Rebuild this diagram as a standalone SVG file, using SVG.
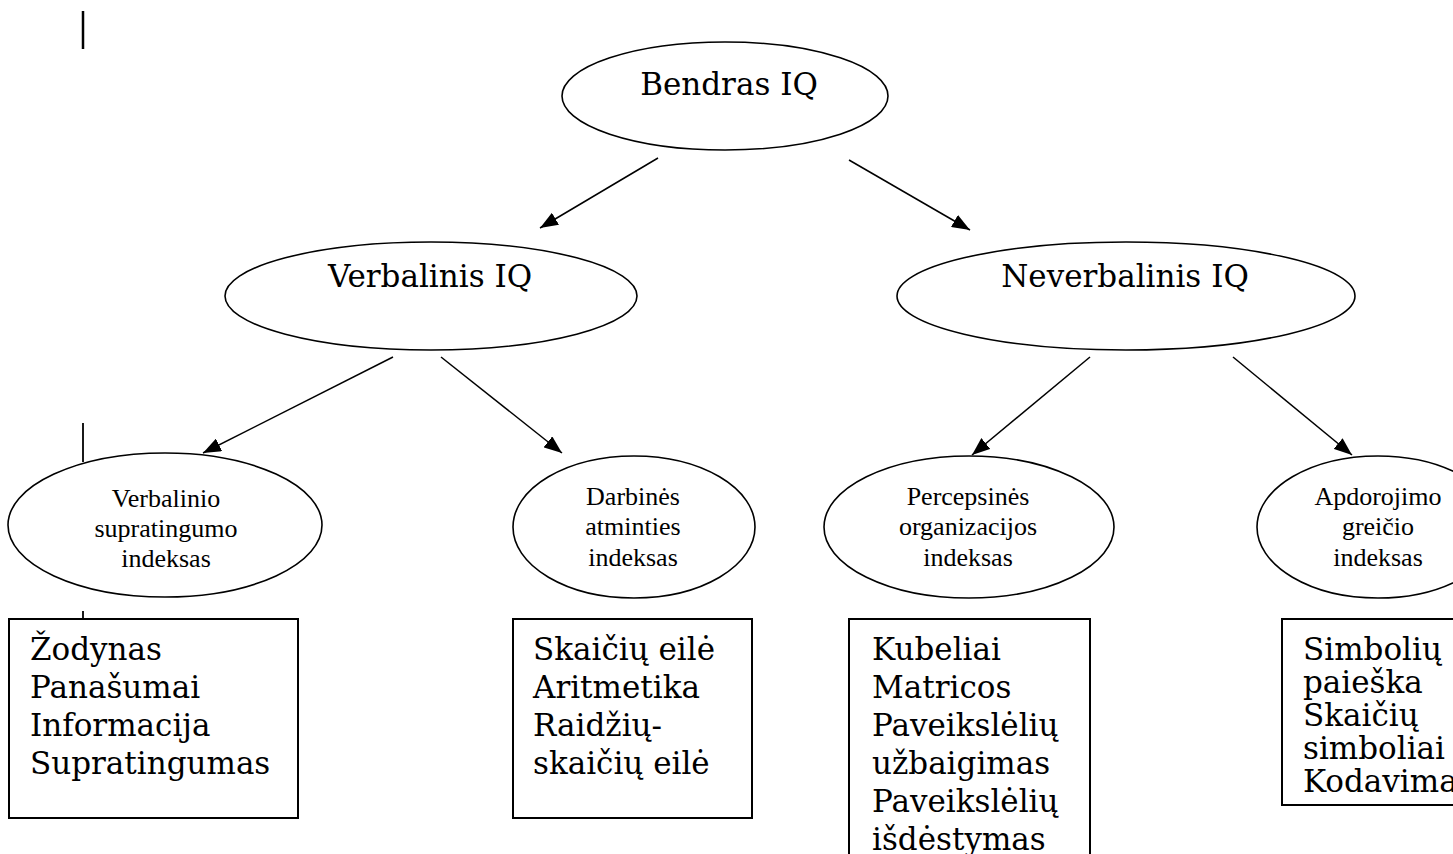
<svg xmlns="http://www.w3.org/2000/svg" width="1453" height="854" viewBox="0 0 1453 854">
<style>
.ell{fill:#fff;stroke:#000;stroke-width:1.6}
.box{fill:#fff;stroke:#000;stroke-width:2}
.big{font-family:"DejaVu Serif","Liberation Serif",serif;font-size:31px;fill:#000}
.sm{font-family:"Liberation Serif","Times New Roman",serif;font-size:26px;fill:#000;text-anchor:middle}
.mid{text-anchor:middle}
.con line{stroke:#000;stroke-width:1.5}
.mark{stroke:#000}
</style>
<defs>
<marker id="ah" viewBox="0 0 18 14" refX="18" refY="7" markerWidth="18" markerHeight="14" markerUnits="userSpaceOnUse" orient="auto">
<path d="M0,0 L18,7 L0,14 z" fill="#000"/>
</marker>
</defs>
<rect width="1453" height="854" fill="#fff"/>
<g id="marks">
<line class="mark" x1="83" y1="11" x2="83" y2="49" stroke-width="2.5"/>
<line class="mark" x1="83" y1="423" x2="83" y2="462" stroke-width="1.8"/>
<line class="mark" x1="83" y1="611" x2="83" y2="619" stroke-width="1.8"/>
</g>
<g id="connectors" class="con">
<line x1="658" y1="158" x2="540" y2="228" marker-end="url(#ah)"/>
<line x1="849" y1="160" x2="970" y2="230" marker-end="url(#ah)"/>
<line x1="393" y1="357" x2="203" y2="453" marker-end="url(#ah)"/>
<line x1="441" y1="357" x2="562" y2="453" marker-end="url(#ah)"/>
<line x1="1090" y1="357" x2="972" y2="455" marker-end="url(#ah)"/>
<line x1="1233" y1="357" x2="1352" y2="455" marker-end="url(#ah)"/>
</g>
<g id="bendras">
<ellipse class="ell" cx="725" cy="96" rx="163" ry="54"/>
<text class="big mid" x="729" y="95">Bendras IQ</text>
</g>
<g id="verbalinis">
<ellipse class="ell" cx="431" cy="296" rx="206" ry="54"/>
<text class="big mid" x="430" y="287">Verbalinis IQ</text>
</g>
<g id="neverbalinis">
<ellipse class="ell" cx="1126" cy="296" rx="229" ry="54"/>
<text class="big mid" x="1125" y="287">Neverbalinis IQ</text>
</g>
<g id="vsi">
<ellipse class="ell" cx="165" cy="525" rx="157" ry="72"/>
<text class="sm" x="166" y="507">Verbalinio</text>
<text class="sm" x="166" y="537">supratingumo</text>
<text class="sm" x="166" y="567">indeksas</text>
</g>
<g id="dai">
<ellipse class="ell" cx="634" cy="527" rx="121" ry="71"/>
<text class="sm" x="633" y="505">Darbinės</text>
<text class="sm" x="633" y="535">atminties</text>
<text class="sm" x="633" y="566">indeksas</text>
</g>
<g id="poi">
<ellipse class="ell" cx="969" cy="527" rx="145" ry="71"/>
<text class="sm" x="968" y="505">Percepsinės</text>
<text class="sm" x="968" y="535">organizacijos</text>
<text class="sm" x="968" y="566">indeksas</text>
</g>
<g id="agi">
<ellipse class="ell" cx="1378" cy="527" rx="121" ry="71"/>
<text class="sm" x="1378" y="505">Apdorojimo</text>
<text class="sm" x="1378" y="535">greičio</text>
<text class="sm" x="1378" y="566">indeksas</text>
</g>
<g id="box1">
<rect class="box" x="9" y="619" width="289" height="199"/>
<text class="big" x="30" y="660">Žodynas</text>
<text class="big" x="30" y="698">Panašumai</text>
<text class="big" x="30" y="736">Informacija</text>
<text class="big" x="30" y="774">Supratingumas</text>
</g>
<g id="box2">
<rect class="box" x="513" y="619" width="239" height="199"/>
<text class="big" x="533" y="660">Skaičių eilė</text>
<text class="big" x="533" y="698">Aritmetika</text>
<text class="big" x="533" y="736">Raidžių-</text>
<text class="big" x="533" y="774">skaičių eilė</text>
</g>
<g id="box3">
<rect class="box" x="849" y="619" width="241" height="260"/>
<text class="big" x="872" y="660">Kubeliai</text>
<text class="big" x="872" y="698">Matricos</text>
<text class="big" x="872" y="736">Paveikslėlių</text>
<text class="big" x="872" y="774">užbaigimas</text>
<text class="big" x="872" y="812">Paveikslėlių</text>
<text class="big" x="872" y="850">išdėstymas</text>
</g>
<g id="box4">
<rect class="box" x="1282" y="619" width="200" height="186"/>
<text class="big" x="1303" y="660">Simbolių</text>
<text class="big" x="1303" y="693">paieška</text>
<text class="big" x="1303" y="726">Skaičių</text>
<text class="big" x="1303" y="759">simboliai</text>
<text class="big" x="1303" y="792">Kodavimas</text>
</g>
</svg>
